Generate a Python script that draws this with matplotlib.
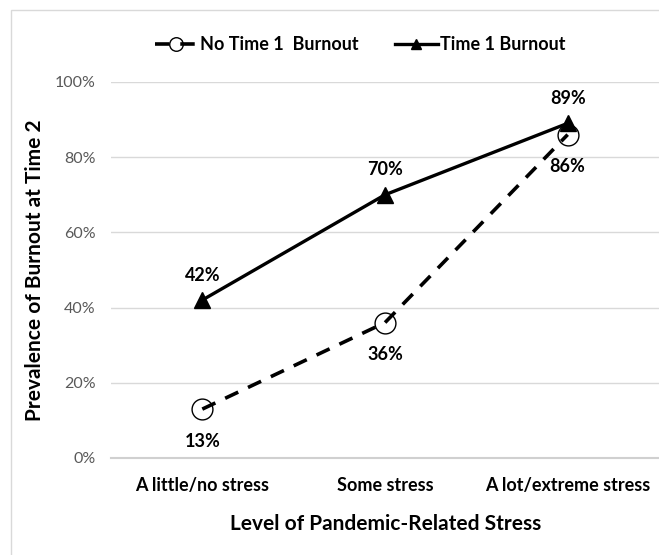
import matplotlib.pyplot as plt
from matplotlib.patches import Rectangle
from matplotlib.ticker import PercentFormatter

plt.rcParams["font.family"] = ["Lato", "DejaVu Sans"]

categories = ["A little/no stress", "Some stress", "A lot/extreme stress"]
no_burnout = [13, 36, 86]
time1_burnout = [42, 70, 89]
y_ticks = [0, 20, 40, 60, 80, 100]

fig = plt.figure(figsize=(6.59, 5.55), dpi=100)
ax = fig.add_axes([0.1684, 0.1748, 0.8316, 0.6775])

# outer chart border (Excel style), only left and top edges visible
fig.patches.append(Rectangle((11 / 659, -0.1), 1.2, 0.1 + 545 / 555,
                             transform=fig.transFigure, fill=False,
                             edgecolor="#d9d9d9", linewidth=1))

x = list(range(len(categories)))

ax.plot(x, no_burnout, color="black", linewidth=2.6, linestyle=(0, (4, 3)),
        marker="o", markersize=15, markerfacecolor="none",
        markeredgecolor="black", markeredgewidth=1.0,
        label="No Time 1  Burnout", zorder=3)
ax.plot(x, time1_burnout, color="black", linewidth=2.4,
        marker="^", markersize=12, markerfacecolor="black",
        markeredgecolor="black", label="Time 1 Burnout", zorder=4)

for xi, v in zip(x, no_burnout):
    ax.annotate(f"{v}%", (xi, v), xytext=(0, -23), textcoords="offset points",
                ha="center", va="center", fontsize=13, fontweight="bold")
for xi, v in zip(x, time1_burnout):
    ax.annotate(f"{v}%", (xi, v), xytext=(0, 18), textcoords="offset points",
                ha="center", va="center", fontsize=13, fontweight="bold")

ax.set_xlim(-0.5, 2.5)
ax.set_ylim(0, 100)
ax.set_yticks(y_ticks)
ax.yaxis.set_major_formatter(PercentFormatter(decimals=0))
ax.set_xticks(x)
ax.set_xticklabels(categories, fontsize=13, fontweight="bold")
ax.tick_params(axis="y", labelsize=11.5, colors="#595959", length=0, pad=11)
ax.tick_params(axis="x", length=0, pad=14)

ax.grid(axis="y", color="#d9d9d9", linewidth=1)
ax.set_axisbelow(True)
for side in ["top", "right", "left"]:
    ax.spines[side].set_visible(False)
ax.spines["bottom"].set_color("#d0d0d0")
ax.spines["bottom"].set_linewidth(1.5)

fig.text(386 / 659, 31 / 555, "Level of Pandemic-Related Stress",
         ha="center", va="center", fontsize=15, fontweight="bold")
fig.text(35 / 659, 285 / 555, "Prevalence of Burnout at Time 2",
         ha="center", va="center", rotation=90, fontsize=15,
         fontweight="bold")

fig.legend(loc="center", bbox_to_anchor=(360 / 659, 510 / 555), ncol=2,
           frameon=False, prop={"weight": "bold", "size": 13},
           handlelength=2.4, columnspacing=2.0, markerscale=0.65,
           handletextpad=0.1)

plt.savefig("out.png", dpi=100)
plt.close()
